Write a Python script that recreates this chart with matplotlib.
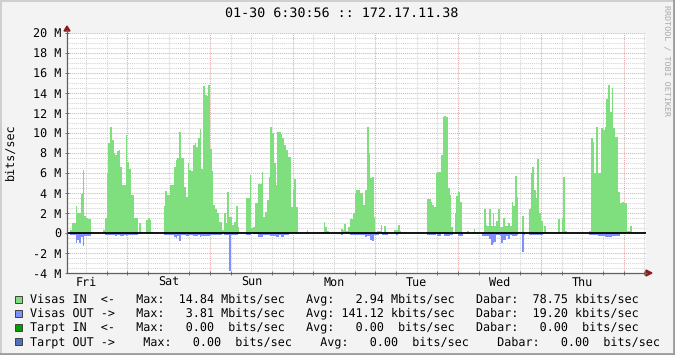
import numpy as np
import matplotlib
matplotlib.use("Agg")
import matplotlib.pyplot as plt
from matplotlib.lines import Line2D
from matplotlib.patches import Rectangle, Polygon

plt.rcParams['font.family'] = ['DejaVu Sans Mono']
plt.rcParams['text.hinting'] = 'no_hinting'

# ---------------- data (30-minute steps, Mbit/s) ----------------
start_hour = 6.5          # hours after Fri 00:00
step_hours = 0.5

visas_in = [
    0, 0, 0.3, 1.0, 1.0, 2.7, 2.0, 2.0, 3.9, 6.3, 1.7, 1.5,
    1.4, 1.4, 0.1, 0, 0, 0, 0, 0, 0, 0.3, 1.5, 6.0,
    9.0, 10.6, 9.3, 8.0, 7.8, 8.2, 8.3, 6.6, 4.8, 4.8, 9.8, 7.1,
    6.4, 3.8, 3.8, 1.5, 1.5, 0, 1.0, 0, 0, 0, 1.3, 1.5,
    1.3, 0.1, 0, 0, 0, 0, 0, 0, 2.7, 4.2, 3.8, 3.8,
    4.8, 4.8, 6.6, 7.3, 7.5, 10.1, 7.5, 7.5, 4.6, 3.6, 7.0, 6.3,
    6.2, 8.8, 9.0, 8.6, 9.5, 10.4, 6.4, 14.7, 13.8, 13.7, 14.84, 8.4,
    6.2, 2.8, 2.4, 2.0, 1.1, 1.1, 0.3, 2.0, 1.0, 4.1, 1.6, 1.6,
    0.8, 1.1, 2.7, 0.6, 0, 0, 0, 0, 3.5, 3.5, 5.8, 0.5,
    0.6, 3.0, 3.0, 4.9, 4.9, 6.1, 1.6, 2.1, 3.3, 5.6, 10.6, 10.0,
    7.0, 4.8, 10.1, 10.1, 9.9, 9.5, 8.8, 8.3, 7.6, 7.6, 2.6, 4.3,
    5.4, 2.6, 0, 0, 0, 0, 0, 0.3, 0, 0, 0, 0,
    0, 0, 0, 0, 0.1, 1.1, 0.6, 0.2, 0, 0, 0, 0,
    0, 0, 0, 0.4, 0.3, 0.9, 0.2, 0.6, 1.4, 1.4, 2.0, 4.0,
    4.3, 4.3, 4.0, 4.0, 2.8, 4.3, 10.6, 8.0, 5.5, 5.6, 1.6, 0.1,
    0.2, 0.2, 0.8, 0.1, 0.7, 0.1, 0, 0, 0, 0, 0.3, 0.3,
    0.8, 0.2, 0, 0, 0, 0, 0, 0, 0, 0, 0, 0,
    0, 0, 0, 0, 0, 3.4, 3.4, 3.1, 2.8, 2.6, 6.0, 6.1,
    6.1, 7.8, 11.6, 11.7, 11.6, 4.5, 3.8, 0.6, 0, 2.0, 3.7, 4.1,
    3.1, 0, 0, 0, 0.2, 0, 0, 0.1, 0.4, 0, 0, 0,
    0.1, 0.1, 2.4, 0.8, 0.7, 2.4, 0.7, 2.0, 0.7, 1.2, 2.4, 0.6,
    0.6, 1.5, 0.7, 0.7, 1.0, 0.7, 3.1, 2.7, 5.7, 3.6, 0.1, 0,
    1.7, 0.1, 0, 0, 2.4, 6.0, 6.6, 4.3, 3.5, 7.4, 2.0, 1.2,
    0.1, 0.7, 0.1, 0.1, 0.1, 0, 0, 0, 0, 1.4, 0.1, 1.5,
    5.6, 0.2, 0, 0, 0, 0, 0, 0, 0, 0, 0, 0,
    0, 0, 0, 0.2, 9.5, 9.1, 6.0, 10.6, 6.0, 6.0, 10.5, 10.3,
    10.6, 13.4, 14.8, 12.1, 14.5, 10.5, 9.6, 9.6, 4.1, 3.0, 3.1, 3.0,
    3.0, 0.2, 0.2, 0.7, 0, 0, 0, 0, 0, 0, 0, 0,
]

visas_out = [
    0, 0, 0.2, 0.2, 0.2, 1.0, 0.7, 1.0, 0.4, 1.3, 0.3, 0.3,
    0.3, 0.3, 0, 0, 0, 0, 0, 0, 0, 0, 0.2, 0.2,
    0.2, 0.2, 0.2, 0.2, 0.25, 0.2, 0.2, 0.25, 0.25, 0.2, 0.25, 0.2,
    0.2, 0.2, 0.2, 0.15, 0.15, 0, 0, 0, 0, 0, 0, 0,
    0, 0, 0, 0, 0, 0, 0, 0, 0.2, 0.2, 0.2, 0.2,
    0.2, 0.2, 0.4, 0.5, 0.3, 0.8, 0.2, 0.2, 0.2, 0.3, 0.3, 0.2,
    0.2, 0.3, 0.3, 0.3, 0.2, 0.35, 0.25, 0.25, 0.25, 0.3, 0.25, 0.2,
    0.2, 0.2, 0.2, 0.2, 0.2, 0.15, 0, 0.2, 0.2, 0.2, 3.81, 0.15,
    0.15, 0.15, 0.15, 0.1, 0, 0, 0, 0, 0.15, 0.15, 0.15, 0,
    0.1, 0.1, 0.1, 0.35, 0.35, 0.35, 0.2, 0.2, 0.2, 0.2, 0.25, 0.25,
    0.25, 0.35, 0.35, 0.15, 0.35, 0.35, 0.2, 0.2, 0.2, 0, 0, 0,
    0, 0, 0, 0, 0, 0, 0, 0, 0, 0, 0, 0,
    0, 0, 0, 0, 0.1, 0, 0, 0.1, 0, 0, 0, 0,
    0, 0.1, 0, 0.15, 0, 0, 0, 0, 0.15, 0.15, 0.15, 0.15,
    0.15, 0.15, 0.15, 0.15, 0.15, 0.35, 0.3, 0.3, 0.65, 0.8, 0.2, 0.2,
    0.2, 0, 0, 0.2, 0.2, 0.15, 0, 0, 0, 0, 0, 0.15,
    0, 0, 0, 0, 0, 0, 0, 0, 0, 0, 0, 0,
    0, 0, 0, 0, 0, 0.2, 0.2, 0.2, 0.2, 0.2, 0, 0.3,
    0.3, 0, 0, 0.25, 0.25, 0.25, 0.15, 0.15, 0, 0, 0, 0.3,
    0.3, 0.3, 0, 0, 0, 0, 0, 0, 0, 0, 0, 0,
    0, 0.3, 0.3, 0.3, 0.3, 0.6, 1.2, 1.0, 0.85, 0.2, 0.2, 0.3,
    1.0, 0.65, 0.65, 0.25, 0.6, 0.15, 0.25, 0.25, 0.25, 0.15, 0, 0,
    1.9, 0.2, 0, 0, 0.2, 0.2, 0.2, 0.2, 0.2, 0.2, 0.2, 0.2,
    0, 0, 0, 0, 0, 0, 0, 0, 0, 0, 0, 0,
    0, 0, 0, 0, 0, 0, 0, 0, 0, 0, 0, 0,
    0, 0, 0, 0.2, 0.2, 0.2, 0.2, 0.2, 0.3, 0.3, 0.3, 0.3,
    0.35, 0.35, 0.35, 0.35, 0.25, 0.25, 0.25, 0.25, 0.25, 0, 0, 0,
    0, 0, 0, 0, 0, 0, 0, 0, 0, 0, 0, 0,
]

day_labels = ["Fri", "Sat", "Sun", "Mon", "Tue", "Wed", "Thu"]
y_ticks = [-4, -2, 0, 2, 4, 6, 8, 10, 12, 14, 16, 18, 20]
y_tick_labels = ["-4 M", "-2 M", "0", "2 M", "4 M", "6 M", "8 M", "10 M",
                 "12 M", "14 M", "16 M", "18 M", "20 M"]

title = "01-30 6:30:56 :: 172.17.11.38"
legend_lines = [
    "Visas IN  <-   Max:  14.84 Mbits/sec   Avg:   2.94 Mbits/sec   Dabar:  78.75 kbits/sec",
    "Visas OUT ->   Max:   3.81 Mbits/sec   Avg: 141.12 kbits/sec   Dabar:  19.20 kbits/sec",
    "Tarpt IN  <-   Max:   0.00  bits/sec   Avg:   0.00  bits/sec   Dabar:   0.00  bits/sec",
    "Tarpt OUT ->    Max:   0.00  bits/sec    Avg:   0.00  bits/sec    Dabar:   0.00  bits/sec",
]
legend_colors = ["#7fdf7f", "#7f8fff", "#00a000", "#5070c0"]

# ---------------- layout helpers ----------------
W, H = 675, 355
def fx(px):
    return px / W
def fy(py):
    return 1 - py / H

FS = 8.44

fig = plt.figure(figsize=(W / 100, H / 100), dpi=100, facecolor="#f3f3f3")
ax = fig.add_axes([fx(67), fy(273), (646 - 67) / W, (273 - 33) / H])
ax.set_facecolor("white")

n = len(visas_in)
end_hour = start_hour + n * step_hours
ax.set_xlim(start_hour, end_hour)
ax.set_ylim(-4, 20)

# grid
minor_c = "#d2d2d2"
major_c = "#e3a9a9"
dot = (0, (1, 1))
for v in np.arange(-3.5, 20.01, 0.5):
    if abs(v) < 1e-9:
        continue
    c = major_c if abs(v % 2) < 1e-9 else minor_c
    ax.axhline(v, color=c, lw=0.75, ls=dot, zorder=0)
for h in range(12, int(end_hour) + 1, 6):
    c = major_c if h % 24 == 0 else minor_c
    ax.axvline(h, color=c, lw=0.75, ls=dot, zorder=0)

# data
edges = start_hour + step_hours * np.arange(n + 1)
ax.stairs(np.array(visas_in), edges, baseline=0, fill=True,
          color=legend_colors[0], lw=0, zorder=2)
ax.stairs(-np.array(visas_out), edges, baseline=0, fill=True,
          color=legend_colors[1], lw=0, zorder=2)
ax.axhline(0, color="black", lw=1.3, zorder=3)

# axes / ticks
for s in ax.spines.values():
    s.set_visible(False)
ax.set_yticks(y_ticks)
ax.set_yticklabels(y_tick_labels)
ax.set_xticks([12 + 24 * k for k in range(len(day_labels))])
ax.set_xticklabels(day_labels)
ax.set_xticks(list(range(12, int(end_hour) + 1, 6)), minor=True)
ax.tick_params(axis="y", which="major", length=3, width=0.7, direction="inout",
               color="#707070", pad=2.8, labelsize=FS, labelcolor="black")
ax.tick_params(axis="x", which="major", length=0, pad=2.5, labelsize=FS)
ax.tick_params(axis="x", which="minor", length=3, width=0.7,
               direction="inout", color="#707070")

axis_c = "#606060"
fig.add_artist(Line2D([fx(67), fx(67)], [fy(273), fy(30)], color=axis_c,
                      lw=0.9, transform=fig.transFigure))
fig.add_artist(Line2D([fx(67), fx(647)], [fy(273), fy(273)], color=axis_c,
                      lw=0.9, transform=fig.transFigure))
arrow_c = "#8b1a1a"
fig.add_artist(Polygon([(fx(64), fy(31)), (fx(70), fy(31)), (fx(67), fy(26))],
                       closed=True, color=arrow_c, transform=fig.transFigure))
fig.add_artist(Polygon([(fx(646), fy(270)), (fx(646), fy(276)), (fx(652), fy(273))],
                       closed=True, color=arrow_c, transform=fig.transFigure))

# texts
fig.text(fx(342), fy(13), title, ha="center", va="center", fontsize=9.6)
fig.text(fx(10), fy(152), "bits/sec", rotation=90, ha="center", va="center",
         fontsize=FS)
fig.text(fx(666), fy(5), "RRDTOOL / TOBI OETIKER", rotation=270, ha="center",
         va="top", fontsize=6, color="#a8a8a8")

line_y = [299.3, 313.4, 327.6, 341.7]
for txt, col, yy in zip(legend_lines, legend_colors, line_y):
    fig.add_artist(Rectangle((fx(15), fy(yy + 3.5)), 7 / W, 7 / H,
                             facecolor=col, edgecolor="#404040", lw=0.7,
                             transform=fig.transFigure))
    fig.text(fx(30.3), fy(yy), txt, ha="left", va="center", fontsize=FS)

# frame
fig.add_artist(Line2D([0, 1], [fy(0.7), fy(0.7)], color="#cfcfcf", lw=1.4,
                      transform=fig.transFigure))
fig.add_artist(Line2D([fx(0.7), fx(0.7)], [0, 1], color="#cfcfcf", lw=1.4,
                      transform=fig.transFigure))
fig.add_artist(Line2D([0, 1], [fy(353.8), fy(353.8)], color="#9c9c9c", lw=2.0,
                      transform=fig.transFigure))
fig.add_artist(Line2D([fx(673.8), fx(673.8)], [0, 1], color="#9c9c9c", lw=2.0,
                      transform=fig.transFigure))

fig.savefig("out.png", dpi=100, facecolor=fig.get_facecolor())
